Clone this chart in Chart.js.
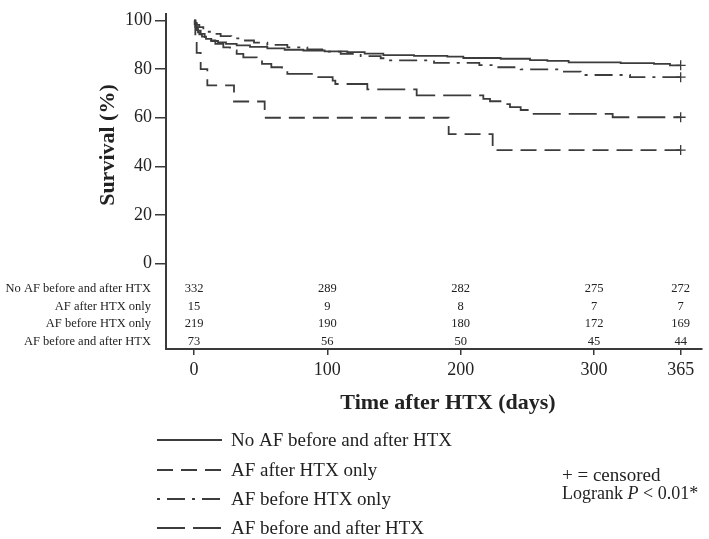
<!DOCTYPE html>
<html>
<head>
<meta charset="utf-8">
<script src="https://cdn.jsdelivr.net/npm/chart.js@4.4.1/dist/chart.umd.min.js"></script>
<style>
body { margin: 0; background: #fff; }
#wrap { width: 709px; height: 539px; position: relative; }
</style>
</head>
<body>
<div id="wrap"><canvas id="kmChart"></canvas></div>
<script>
// Kaplan-Meier curves (days, survival %)
const noAfDays = [0, 0.5, 1, 2, 3, 4, 6, 9, 13, 18, 24, 32, 42, 55, 68, 82, 98, 115, 128, 142, 165, 190, 202, 230, 252, 265, 281, 320, 345, 357, 365];
const noAfSurv = [100, 98.5, 97.3, 96.1, 95.2, 94.3, 93.4, 92.5, 91.6, 91.0, 90.4, 89.8, 89.2, 88.6, 88.0, 87.7, 87.3, 87.0, 86.4, 85.8, 85.5, 85.2, 84.6, 84.3, 83.7, 83.4, 82.8, 82.5, 82.2, 81.6, 81.6];

const afAfterDays = [0, 1, 2, 5, 10, 30, 53, 191, 224, 365];
const afAfterSurv = [100, 93.3, 86.7, 80.0, 73.3, 66.7, 60.0, 53.3, 46.7, 46.7];

const afBeforeDays = [0, 1, 2, 4, 7, 10, 14, 20, 28, 35, 45, 55, 70, 85, 100, 110, 125, 140, 147, 180, 214, 225, 245, 275, 290, 327, 365];
const afBeforeSurv = [100, 99.1, 98.2, 97.3, 96.3, 95.4, 94.5, 93.6, 92.7, 91.8, 90.9, 90.0, 89.0, 88.1, 87.2, 86.3, 85.4, 84.5, 83.6, 82.6, 81.7, 80.8, 79.9, 79.0, 77.6, 76.7, 76.7];

const afBothDays = [0, 1, 2, 3, 5, 8, 12, 16, 22, 27, 32, 37, 47, 51, 58, 66, 70, 90, 104, 106, 130, 167, 217, 222, 231, 237, 245, 252, 314, 365];
const afBothSurv = [100, 98.6, 97.3, 95.9, 94.5, 93.2, 91.8, 90.4, 89.0, 87.7, 86.3, 84.9, 83.6, 82.2, 80.8, 79.5, 78.1, 76.7, 75.3, 73.9, 71.7, 69.2, 67.8, 66.8, 65.6, 64.4, 63.2, 61.6, 60.2, 60.2];

// number at risk table
const groupNames = ['No AF before and after HTX', 'AF after HTX only', 'AF before HTX only', 'AF before and after HTX'];
const riskDays = [0, 100, 200, 300, 365];
const riskNoAf = [332, 289, 282, 275, 272];
const riskAfAfter = [15, 9, 8, 7, 7];
const riskAfBefore = [219, 190, 180, 172, 169];
const riskAfBoth = [73, 56, 50, 45, 44];

const xTicks = [0, 100, 200, 300, 365];
const yTicks = [0, 20, 40, 60, 80, 100];

const lineColor = '#3c3c3c';
const axisColor = '#3a3a3a';
const textColor = '#222';
const serif = '"Liberation Serif", "Times New Roman", serif';

// dash patterns per group (same order as groupNames)
const dashes = [[], [16, 8], [18, 7, 3, 7], [28, 8]];
const legendDashOffset = [0, 0, 25, 0]; // start the dash-dot sample with the dot

function kmDataset(label, days, surv, dash) {
    return {
        label: label,
        data: days.map((d, i) => ({ x: d, y: surv[i] })),
        stepped: 'before',
        borderColor: lineColor,
        borderWidth: 1.8,
        borderDash: dash,
        fill: false,
        pointStyle: 'cross',
        pointRadius: ctx => ctx.dataIndex === days.length - 1 ? 5 : 0,
        pointBorderColor: lineColor,
        pointBorderWidth: 1.3
    };
}

// risk table, axis titles and the legend underneath
const extrasPlugin = {
    id: 'kmExtras',
    afterDraw(chart) {
        const ctx = chart.ctx;
        const xs = chart.scales.x;
        const ys = chart.scales.y;
        const area = chart.chartArea;
        ctx.save();
        ctx.fillStyle = textColor;

        // y title
        ctx.save();
        ctx.font = 'bold 22px ' + serif;
        ctx.textAlign = 'center';
        ctx.textBaseline = 'middle';
        ctx.translate(108, ys.getPixelForValue(50) + 3);
        ctx.rotate(-Math.PI / 2);
        ctx.fillText('Survival (%)', 0, 0);
        ctx.restore();

        // number at risk
        const riskRows = [riskNoAf, riskAfAfter, riskAfBefore, riskAfBoth];
        const rowTop = ys.getPixelForValue(0) + 25;
        ctx.font = '12.5px ' + serif;
        ctx.textBaseline = 'middle';
        riskRows.forEach((row, r) => {
            const y = rowTop + r * 17.8;
            ctx.textAlign = 'right';
            ctx.fillText(groupNames[r], area.left - 15, y);
            ctx.textAlign = 'center';
            row.forEach((n, i) => {
                ctx.fillText(String(n), xs.getPixelForValue(riskDays[i]), y);
            });
        });

        // x title
        ctx.font = 'bold 22px ' + serif;
        ctx.textAlign = 'center';
        ctx.fillText('Time after HTX (days)', 448, 403);

        // legend
        ctx.font = '19px ' + serif;
        ctx.textAlign = 'left';
        const legY = [440, 470, 499, 528];
        groupNames.forEach((name, i) => {
            ctx.save();
            ctx.strokeStyle = lineColor;
            ctx.lineWidth = 1.8;
            ctx.setLineDash(dashes[i]);
            ctx.lineDashOffset = legendDashOffset[i];
            ctx.beginPath();
            ctx.moveTo(157, legY[i]);
            ctx.lineTo(222, legY[i]);
            ctx.stroke();
            ctx.restore();
            ctx.fillText(name, 231, legY[i] + 1);
        });

        // censor note and logrank
        ctx.fillText('+ = censored', 562, 476);
        ctx.font = '18px ' + serif;
        const lx = 562, ly = 494;
        ctx.fillText('Logrank ', lx, ly);
        let w = ctx.measureText('Logrank ').width;
        ctx.font = 'italic 18px ' + serif;
        ctx.fillText('P', lx + w, ly);
        w += ctx.measureText('P').width;
        ctx.font = '18px ' + serif;
        ctx.fillText(' < 0.01*', lx + w, ly);

        ctx.restore();
    }
};

function createKMChart() {
    const ctx = document.getElementById('kmChart').getContext('2d');
    return new Chart(ctx, {
        type: 'line',
        data: {
            datasets: [
                kmDataset(groupNames[0], noAfDays, noAfSurv, dashes[0]),
                kmDataset(groupNames[1], afAfterDays, afAfterSurv, dashes[1]),
                kmDataset(groupNames[2], afBeforeDays, afBeforeSurv, dashes[2]),
                kmDataset(groupNames[3], afBothDays, afBothSurv, dashes[3])
            ]
        },
        options: {
            responsive: true,
            maintainAspectRatio: false,
            animation: false,
            layout: { padding: { top: 4, right: 7, left: 0, bottom: 0 } },
            plugins: {
                legend: { display: false },
                tooltip: { enabled: false }
            },
            scales: {
                x: {
                    type: 'linear',
                    min: -21,
                    max: 381,
                    afterBuildTicks: s => { s.ticks = xTicks.map(v => ({ value: v })); },
                    afterFit: s => { s.height = 190; },
                    border: { color: axisColor, width: 2 },
                    grid: { drawOnChartArea: false, drawTicks: true, tickLength: 6, color: axisColor, lineWidth: 1.5 },
                    ticks: {
                        font: { family: serif, size: 18 },
                        color: textColor,
                        padding: 4,
                        maxRotation: 0,
                        autoSkip: false
                    }
                },
                y: {
                    min: -35.2,
                    max: 102.8,
                    afterBuildTicks: s => { s.ticks = yTicks.map(v => ({ value: v })); },
                    afterFit: s => { s.width = 166; },
                    border: { color: axisColor, width: 2 },
                    grid: { drawOnChartArea: false, drawTicks: true, tickLength: 11, color: axisColor, lineWidth: 1.5 },
                    ticks: {
                        font: { family: serif, size: 18 },
                        color: textColor,
                        padding: 3
                    }
                }
            }
        },
        plugins: [extrasPlugin]
    });
}

createKMChart();
</script>
</body>
</html>
